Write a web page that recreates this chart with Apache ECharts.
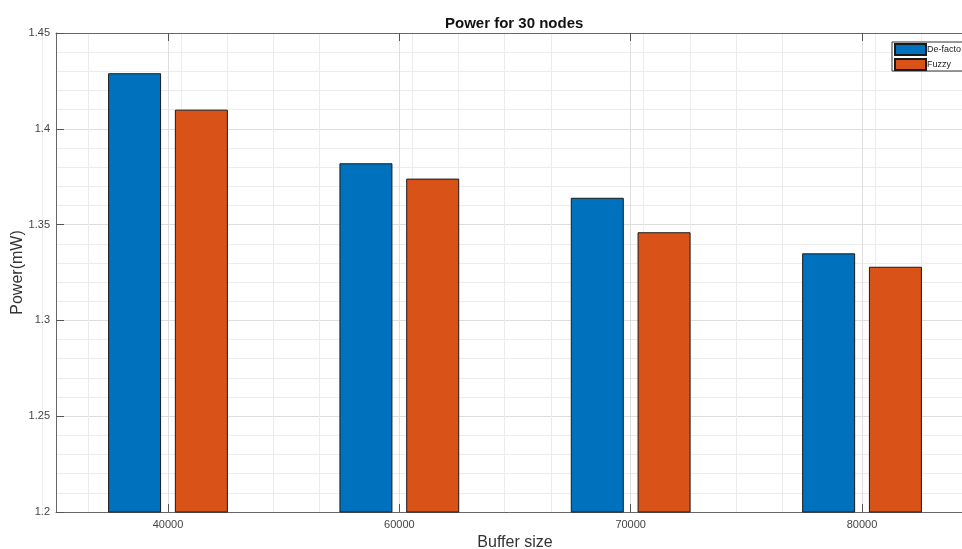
<!DOCTYPE html>
<html>
<head>
<meta charset="utf-8">
<script src="https://cdn.jsdelivr.net/npm/echarts@6/dist/echarts.min.js"></script>
<style>
html,body{margin:0;padding:0;background:#fff;}
#c{width:962px;height:549px;}
</style>
</head>
<body>
<div id="c"></div>
<script>
const categories = ['40000', '60000', '70000', '80000'];
const defacto = [1.429, 1.382, 1.364, 1.335];
const fuzzy = [1.410, 1.374, 1.346, 1.328];
const yTicks = [1.2, 1.25, 1.3, 1.35, 1.4, 1.45];
const seriesNames = ['De-facto', 'Fuzzy'];

const pos = categories.map((c, i) => i + 1);
const FONT = 'Liberation Sans, Arial, Helvetica, sans-serif';
const X_MIN = 0.516, X_MAX = 4.484;

// minor vertical grid positions (every 0.2 between category ticks)
const minorX = [];
for (let k = Math.ceil(X_MIN / 0.2); k * 0.2 < X_MAX; k++) {
  const v = +(k * 0.2).toFixed(3);
  if (Math.abs(v - Math.round(v)) > 1e-6) minorX.push(v);
}

const chart = echarts.init(document.getElementById('c'));
chart.setOption({
  animation: false,
  backgroundColor: '#fff',
  textStyle: { fontFamily: FONT },
  title: {
    text: 'Power for 30 nodes',
    left: 440, top: 11,
    textStyle: { fontSize: 15, fontWeight: 'bold', color: '#111', fontFamily: FONT }
  },
  legend: {
    data: seriesNames,
    orient: 'vertical',
    left: 892, top: 42,
    itemWidth: 31, itemHeight: 11, itemGap: 2,
    padding: [1, 2, 0, 2],
    borderColor: '#333', borderWidth: 1,
    backgroundColor: '#fff',
    icon: 'rect',
    textStyle: { fontSize: 9, color: '#222', fontFamily: FONT, padding: [0, 0, 0, -4] }
  },
  grid: { left: 56, top: 33, bottom: 37, right: -12, containLabel: false, outerBoundsMode: 'none' },
  xAxis: [
    {
      type: 'value', min: X_MIN, max: X_MAX, interval: 1,
      position: 'bottom',
      name: 'Buffer size', nameLocation: 'middle', nameGap: 23, nameMoveOverlap: false,
      nameTextStyle: { fontSize: 16, color: '#333', fontFamily: FONT },
      axisLine: { show: true, lineStyle: { color: '#666', width: 1 } },
      axisTick: { show: true, inside: true, length: 8, customValues: pos, lineStyle: { color: '#555' } },
      axisLabel: {
        customValues: pos, fontSize: 11, color: '#444', margin: 7,
        formatter: v => { const i = Math.round(v) - 1; return Math.abs(v - Math.round(v)) < 1e-6 && categories[i] ? categories[i] : ''; }
      },
      splitLine: { show: true, lineStyle: { color: '#dedede', width: 1 } }
    },
    {
      type: 'value', min: X_MIN, max: X_MAX, interval: 1,
      position: 'top',
      axisLine: { show: true, lineStyle: { color: '#666', width: 1 } },
      axisTick: { show: true, inside: true, length: 8, customValues: pos, lineStyle: { color: '#555' } },
      axisLabel: { show: false },
      splitLine: { show: false }
    }
  ],
  yAxis: {
    type: 'value', min: 1.2, max: 1.45, interval: 0.05,
    name: 'Power(mW)', nameLocation: 'middle', nameGap: 30, nameRotate: 90, nameMoveOverlap: false,
    nameTextStyle: { fontSize: 16, color: '#333', fontFamily: FONT },
    axisLine: { show: true, lineStyle: { color: '#666', width: 1 } },
    axisTick: { show: true, inside: true, length: 8, lineStyle: { color: '#555' } },
    axisLabel: { fontSize: 11, color: '#444', margin: 6, formatter: v => String(+v.toFixed(2)) },
    splitLine: { show: true, lineStyle: { color: '#dedede', width: 1 } },
    minorTick: { show: false, splitNumber: 5 },
    minorSplitLine: { show: true, lineStyle: { color: '#ececec', width: 1 } }
  },
  series: [
    {
      name: seriesNames[0], type: 'bar', xAxisIndex: 0,
      data: pos.map((p, i) => [p, defacto[i]]),
      barWidth: 53, barGap: '26%',
      itemStyle: { color: '#0072BD', borderColor: '#1a1a1a', borderWidth: 1 },
      markLine: {
        silent: true, symbol: 'none', z: 0, animation: false,
        label: { show: false },
        lineStyle: { color: '#ececec', width: 1, type: 'solid' },
        emphasis: { disabled: true },
        data: minorX.map(v => ({ xAxis: v }))
      }
    },
    {
      name: seriesNames[1], type: 'bar', xAxisIndex: 0,
      data: pos.map((p, i) => [p, fuzzy[i]]),
      barWidth: 53, barGap: '26%',
      itemStyle: { color: '#D95319', borderColor: '#1a1a1a', borderWidth: 1 }
    }
  ]
});
</script>
</body>
</html>
